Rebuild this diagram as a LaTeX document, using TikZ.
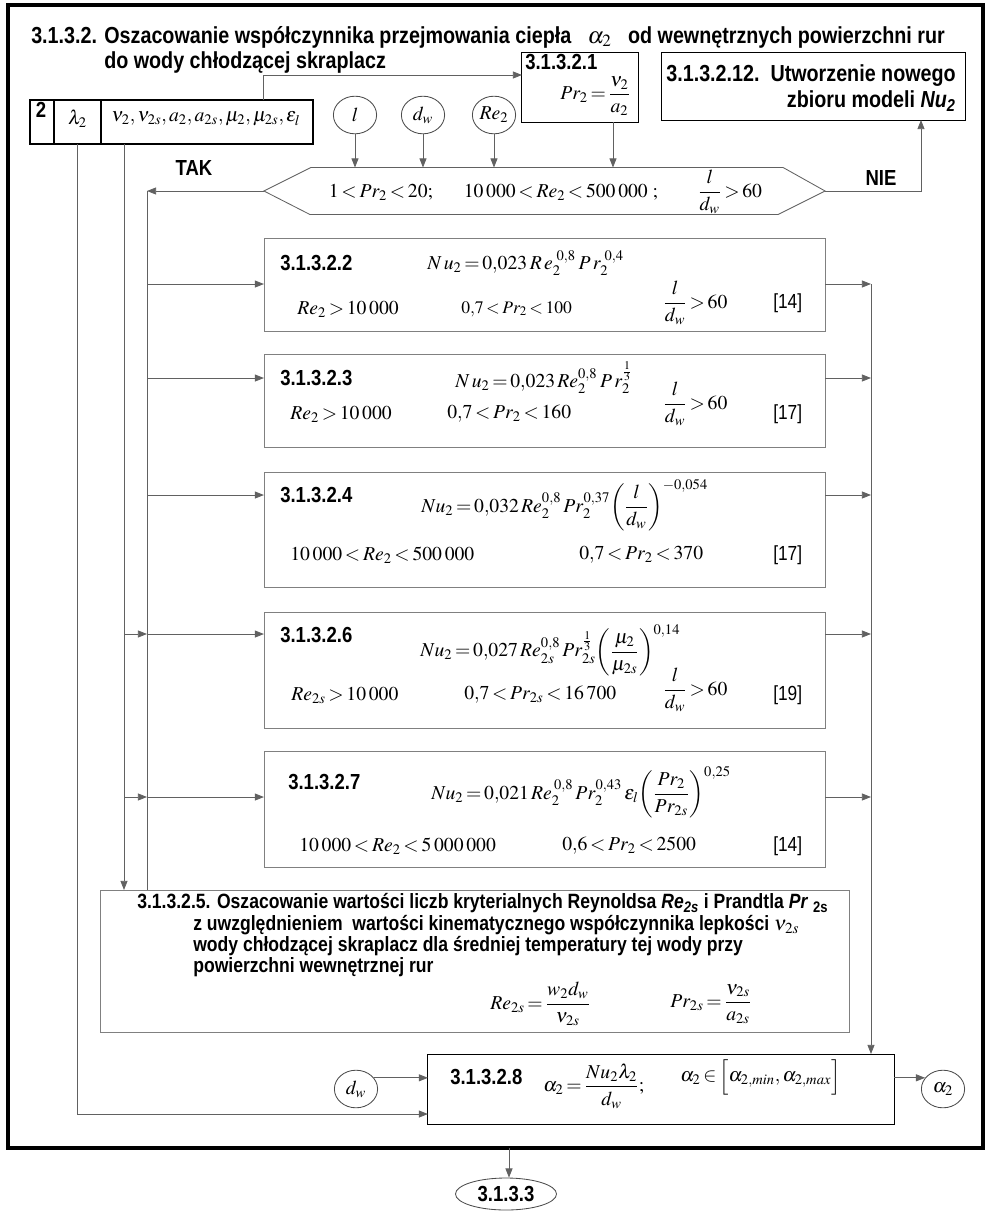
\documentclass[tikz,border=0pt]{standalone}
\usepackage{amsmath}
\usepackage{mathptmx}
\usepackage{fontspec}
\setmainfont{Liberation Serif}
\newfontfamily\hdr[FakeStretch=0.85]{Liberation Sans}
\usetikzlibrary{arrows.meta,shapes.geometric,positioning,calc}

\colorlet{lncol}{black!62}
\colorlet{bxcol}{black!50}
\thickmuskip=2.5mu plus 1mu
\medmuskip=2mu plus 1mu

\begin{document}
\begin{tikzpicture}[
  x=0.025cm, y=-0.025cm,
  line/.style={draw=lncol, line width=0.6pt},
  arrow/.style={line, -{Triangle[length=6.5pt,width=5pt]}},
  fbox/.style={draw=bxcol, line width=0.6pt, inner sep=0pt, outer sep=0pt, minimum width=14.025cm},
  kbox/.style={draw=black, line width=0.7pt, inner sep=0pt, outer sep=0pt},
  inbox/.style={draw=black, line width=1.1pt, inner sep=0pt, outer sep=0pt, minimum height=1.1cm},
  inp/.style={draw=black!70, line width=0.6pt, ellipse, inner sep=0pt, minimum width=1.08cm, minimum height=0.94cm, font=\fontsize{14}{16}\selectfont},
  ttl/.style={font=\hdr\bfseries\fontsize{16.5}{19}\selectfont, inner sep=0pt},
  lbl/.style={font=\hdr\bfseries\fontsize{15.5}{18}\selectfont, inner sep=0pt},
  txt/.style={font=\hdr\bfseries\fontsize{14.7}{16}\selectfont, inner sep=0pt, anchor=west},
  eq/.style={font=\fontsize{14}{16}\selectfont, inner sep=0pt},
  eqs/.style={font=\fontsize{12.5}{14}\selectfont, inner sep=0pt},
  cite/.style={font=\hdr\fontsize{14.5}{16}\selectfont, inner sep=0pt, anchor=west}
]
\useasboundingbox (0,0) rectangle (986,1211);

% Frame
\draw[line width=2.2pt] (8,5) rectangle (983,1148);

% Title
\node[ttl, anchor=west] (ttl1) at (31,37) {3.1.3.2. Oszacowanie współczynnika przejmowania ciepła\ \ \ $\alpha_2$\ \ \ od wewnętrznych powierzchni rur};
\node[ttl, anchor=west] (ttl2) at (104,62) {do wody chłodzącej skraplacz};

% Top boxes
\node[kbox, minimum width=2.9cm, minimum height=1.75cm] (b21) at (580,87) {};
\node[lbl, anchor=west] (t21) at (525,62) {3.1.3.2.1};
\node[eq, anchor=west] (f21) at (560,96) {$Pr_2 = \dfrac{\nu_2}{a_2}$};

\node[kbox, minimum width=7.575cm, minimum height=1.7cm] (b212) at (813.5,86) {};
\node[ttl, anchor=east, align=right] (t212) at (956,88) {3.1.3.2.12.\ \ Utworzenie nowego\\zbioru modeli \textit{Nu\textsubscript{2}}};

% Input data
\node[inbox, minimum width=0.6cm] (in1) at (42,122) {};
\node[inbox, minimum width=1.175cm] (in2) at (77.5,122) {};
\node[inbox, minimum width=5.3cm] (in3) at (207,122) {};
\node[lbl] (n2) at (41,110) {2};
\node[eq] (lam) at (77.5,119) {$\lambda_2$};
\node[eq] (vars) at (206,119) {$\nu_2, \nu_{2s}, a_2, a_{2s}, \mu_2, \mu_{2s}, \varepsilon_l$};

\node[inp] (cl) at (355,115) {$l$};
\node[inp] (cdw) at (423,115) {$d_w$};
\node[inp] (cre) at (494,115) {$Re_2$};

% Condition
\node[inner sep=0pt, outer sep=0pt, minimum width=14.025cm, minimum height=1.175cm] (cond) at (544.5,191) {};
\draw[line] (cond.west) -- ([xshift=1.175cm]cond.north west) -- ([xshift=-1.05cm]cond.north east) -- (cond.east)
  -- ([xshift=-1.175cm]cond.south east) -- ([xshift=1.15cm]cond.south west) -- cycle;
\node[eq] (c1) at (381,192) {$1 < Pr_2 < 20;$};
\node[eq] (c2) at (561,192) {$10\;000 < Re_2 < 500\;000\ ;$};
\node[eq] (c3) at (730,192) {$\dfrac{l}{d_w} > 60$};
\node[lbl] (ltak) at (194,168) {TAK};
\node[lbl] (lnie) at (881,178) {NIE};

% Models
\node[fbox, minimum height=2.325cm] (b22) at (544.5,284.5) {};
\node[lbl, anchor=west] (t22) at (280,263) {3.1.3.2.2};
\node[eq, anchor=west] (f22) at (427,263) {$N\,u_2 = 0{,}023\; R\,e_2^{\;\,0{,}8}\; P\,r_2^{\;\,0{,}4}$};
\node[eq, anchor=west] (r22a) at (297,309) {$Re_2 > 10\;000$};
\node[eqs, anchor=west] (r22b) at (461,309) {$0{,}7 < Pr_2 < 100$};
\node[eq, anchor=west] (r22c) at (663,303) {$\dfrac{l}{d_w} > 60$};
\node[cite] (k22) at (773,303) {[14]};

\node[fbox, minimum height=2.325cm] (b23) at (544.5,400.5) {};
\node[lbl, anchor=west] (t23) at (280,378) {3.1.3.2.3};
\node[eq, anchor=west] (f23) at (455,378) {$N\,u_2 = 0{,}023\,Re_2^{0{,}8}\;P\,r_2^{\frac{1}{3}}$};
\node[eq, anchor=west] (r23a) at (290,414) {$Re_2 > 10\;000$};
\node[eq, anchor=west] (r23b) at (447,414) {$0{,}7 < Pr_2 < 160$};
\node[eq, anchor=west] (r23c) at (663,404) {$\dfrac{l}{d_w} > 60$};
\node[cite] (k23) at (773,414) {[17]};

\node[fbox, minimum height=2.875cm] (b24) at (544.5,529.5) {};
\node[lbl, anchor=west] (t24) at (280,495) {3.1.3.2.4};
\node[eq, anchor=west] (f24) at (421,505) {$Nu_2 = 0{,}032\,Re_2^{0{,}8}\,Pr_2^{0{,}37}\!\left(\dfrac{l}{d_w}\right)^{-0{,}054}$};
\node[eq, anchor=west] (r24a) at (290,555) {$10\;000 < Re_2 < 500\;000$};
\node[eq, anchor=west] (r24b) at (579,555) {$0{,}7 < Pr_2 < 370$};
\node[cite] (k24) at (773,555) {[17]};

\node[fbox, minimum height=2.9cm] (b26) at (544.5,670) {};
\node[lbl, anchor=west] (t26) at (280,635) {3.1.3.2.6};
\node[eq, anchor=west] (f26) at (420,650) {$Nu_2 = 0{,}027\,Re_{2s}^{0{,}8}\,Pr_{2s}^{\frac{1}{3}}\!\left(\dfrac{\mu_2}{\mu_{2s}}\right)^{0{,}14}$};
\node[eq, anchor=west] (r26a) at (291,695) {$Re_{2s} > 10\;000$};
\node[eq, anchor=west] (r26b) at (464,695) {$0{,}7 < Pr_{2s} < 16\;700$};
\node[eq, anchor=west] (r26c) at (663,690) {$\dfrac{l}{d_w} > 60$};
\node[cite] (k26) at (773,695) {[19]};

\node[fbox, minimum height=2.9cm] (b27) at (544.5,809) {};
\node[lbl, anchor=west] (t27) at (288,782) {3.1.3.2.7};
\node[eq, anchor=west] (f27) at (431,792) {$Nu_2 = 0{,}021\,Re_2^{\;0{,}8}\,Pr_2^{0{,}43}\,\varepsilon_l\!\left(\dfrac{Pr_2}{Pr_{2s}}\right)^{0{,}25}$};
\node[eq, anchor=west] (r27a) at (299,846) {$10\;000 < Re_2 < 5\;000\;000$};
\node[eq, anchor=west] (r27b) at (562,846) {$0{,}6 < Pr_2 < 2500$};
\node[cite] (k27) at (773,846) {[14]};

% Reynolds and Prandtl for wall temperature
\node[fbox, minimum width=18.7cm, minimum height=3.55cm] (b25) at (475,961) {};
\node[txt] (t25a) at (137,903) {3.1.3.2.5. Oszacowanie wartości liczb kryterialnych Reynoldsa \textit{Re\textsubscript{2s}} i Prandtla \textit{Pr} \textsubscript{2s}};
\node[txt] (t25b) at (193,925) {z uwzględnieniem\ \ wartości kinematycznego współczynnika lepkości {\normalfont$\nu_{2s}$}};
\node[txt] (t25c) at (193,946) {wody chłodzącej skraplacz dla średniej temperatury tej wody przy};
\node[txt] (t25d) at (193,967) {powierzchni wewnętrznej rur};
\node[eq, anchor=west] (f25a) at (490,1004) {$Re_{2s} = \dfrac{w_2 d_w}{\nu_{2s}}$};
\node[eq, anchor=west] (f25b) at (670,1004) {$Pr_{2s} = \dfrac{\nu_{2s}}{a_{2s}}$};

% Heat transfer coefficient
\node[kbox, minimum width=11.65cm, minimum height=1.75cm] (b28) at (661,1089) {};
\node[lbl, anchor=west] (t28) at (450,1077) {3.1.3.2.8};
\node[eq, anchor=west] (f28a) at (543,1086) {$\alpha_2 = \dfrac{Nu_2\lambda_2}{d_w};$};
\node[eq, anchor=west] (f28b) at (680,1077) {$\alpha_2 \in \Big[\alpha_{2,min},\alpha_{2,max}\Big]$};
\node[inp] (dw2) at (356,1089) {$d_w$};
\node[inp] (a2) at (943,1089) {$\alpha_2$};

\node[draw=black!70, line width=0.6pt, ellipse, lbl, minimum width=2.525cm, minimum height=0.8cm] (next) at (506,1194) {3.1.3.3};

% Coordinates
\coordinate (tak) at (147,191);
\coordinate (nie) at (921,191);
\coordinate (col) at (871,284);
\coordinate (lst) at (124,144);
\coordinate (up) at (263,100);
\coordinate (fb) at (509,1148);
\coordinate (y22) at (0,284);
\coordinate (y23) at (0,378);
\coordinate (y24) at (0,495);
\coordinate (y26) at (0,634);
\coordinate (y27) at (0,797);

% Arrows
\draw[arrow] (up) |- ([yshift=0.3cm]b21.west);
\draw[arrow] (cl.south) -- (cl.south |- cond.north);
\draw[arrow] (cdw.south) -- (cdw.south |- cond.north);
\draw[arrow] (cre.south) -- (cre.south |- cond.north);
\draw[arrow] ([xshift=0.825cm]b21.south) -- ([xshift=0.825cm]b21.south |- cond.north);
\draw[arrow] (cond.west) -- (tak);
\draw[arrow] (cond.east) -- (nie) -- (nie |- b212.south);

\draw[line] (tak) -- (tak |- b25.north);
\draw[arrow] (tak |- y22) -- (b22.west |- y22);
\draw[arrow] (tak |- y23) -- (b23.west |- y23);
\draw[arrow] (tak |- y24) -- (b24.west |- y24);
\draw[arrow] (tak |- y26) -- (b26.west |- y26);
\draw[arrow] (tak |- y27) -- (b27.west |- y27);

\draw[arrow] (lst) -- (lst |- b25.north);
\draw[arrow] (lst |- y26) -- (tak |- y26);
\draw[arrow] (lst |- y27) -- (tak |- y27);
\draw[arrow] (in2.south) |- ([yshift=0.25cm]b28.south west);

\draw[arrow] (b22.east |- y22) -- (col |- y22);
\draw[arrow] (b23.east |- y23) -- (col |- y23);
\draw[arrow] (b24.east |- y24) -- (col |- y24);
\draw[arrow] (b26.east |- y26) -- (col |- y26);
\draw[arrow] (b27.east |- y27) -- (col |- y27);
\draw[arrow] (col) -- (col |- b28.north);

\draw[arrow] (dw2.32) -- (dw2.32 -| b28.west);
\draw[arrow] (b28.east |- a2.148) -- (a2.148);
\draw[arrow] (fb) -- (fb |- next.north);
\end{tikzpicture}
\end{document}
